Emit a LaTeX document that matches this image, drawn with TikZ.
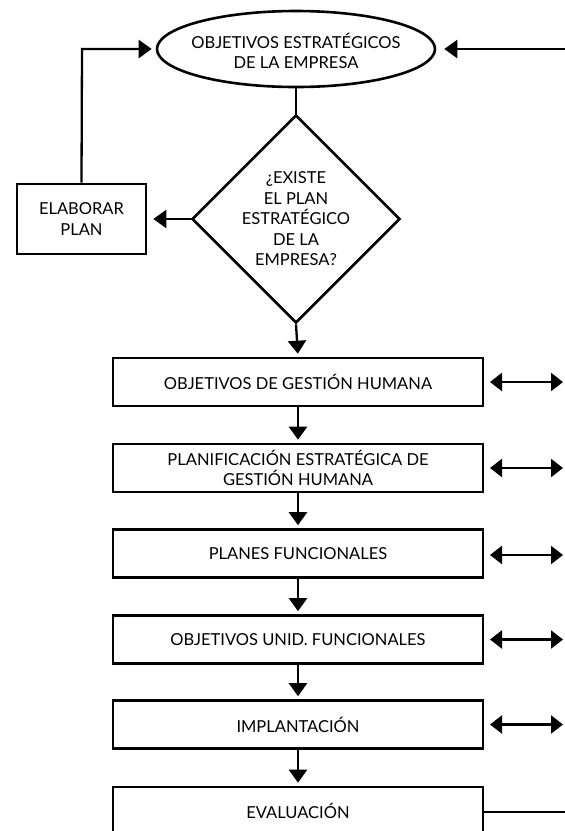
\documentclass[tikz,border=0pt]{standalone}
\usepackage{fontspec}
\setmainfont{Lato}
\usetikzlibrary{shapes.geometric,arrows.meta}
\begin{document}
\begin{tikzpicture}[x=1pt,y=-1pt,
  line width=2.6pt,
  every node/.style={font=\fontsize{16.5}{20.5}\selectfont, inner sep=0pt},
  txt/.style={align=center},
  procbox/.style={draw, rectangle, minimum width=370pt, minimum height=48pt, align=center},
  elabbox/.style={draw, rectangle, minimum width=129pt, minimum height=70pt, align=center},
  flow/.style={-{Triangle[length=13pt,width=18pt]}, line width=2.3pt},
  dbl/.style={{Triangle[length=12pt,width=18pt]}-{Triangle[length=12pt,width=18pt]}, line width=2.3pt}
]
\useasboundingbox (0,0) rectangle (565,831);
\clip (0,0) rectangle (565,831);

\node[draw, ellipse, minimum width=278pt, minimum height=76pt] (obj) at (296,49) {};
\node[txt] (objt) at (296,51) {OBJETIVOS ESTRATÉGICOS\\DE LA EMPRESA};

\node[draw, diamond, minimum width=208pt, minimum height=208pt] (q) at (296,219) {};
\node[txt] (qt) at (296,219) {¿EXISTE\\EL PLAN\\ESTRATÉGICO\\DE LA\\EMPRESA?};

\node[elabbox] (elab) at (81.5,219) {ELABORAR\\PLAN};

\node[procbox] (b1) at (298,382) {OBJETIVOS DE GESTIÓN HUMANA};
\node[procbox] (b2) at (298,468) {PLANIFICACIÓN ESTRATÉGICA DE\\GESTIÓN HUMANA};
\node[procbox] (b3) at (298,553.5) {PLANES FUNCIONALES};
\node[procbox] (b4) at (298,639.5) {OBJETIVOS UNID. FUNCIONALES};
\node[procbox] (b5) at (298,724.5) {IMPLANTACIÓN};
\node[procbox] (b6) at (298,811) {EVALUACIÓN};

% top connections
\draw (obj.south) -- (q.north);
\draw[flow, shorten >=6pt] (q.west) -- (elab.east);
\coordinate (lc) at (82,49);
\draw[flow, shorten >=4pt] (elab.north) -- (lc) -- (obj.west);
\coordinate (rin) at (566,49);
\draw[flow, shorten >=8pt] (rin) -- (obj.east);

% vertical flow
\draw[flow, shorten >=3pt] (q.south) -- (b1.north);
\draw[flow, shorten >=3pt] (b1.south) -- (b2.north);
\draw[flow, shorten >=3pt] (b2.south) -- (b3.north);
\draw[flow, shorten >=3pt] (b3.south) -- (b4.north);
\draw[flow, shorten >=3pt] (b4.south) -- (b5.north);
\draw[flow, shorten >=3pt] (b5.south) -- (b6.north);

% side double arrows
\foreach \n/\y in {1/382,2/468,3/555,4/639.5,5/724.5}{
  \coordinate (dl\n) at (490,\y);
  \coordinate (dr\n) at (563,\y);
  \draw[dbl] (dl\n) -- (dr\n);
}
\coordinate (eout) at (566,812);
\draw (b6.east |- eout) -- (eout);
\end{tikzpicture}
\end{document}
